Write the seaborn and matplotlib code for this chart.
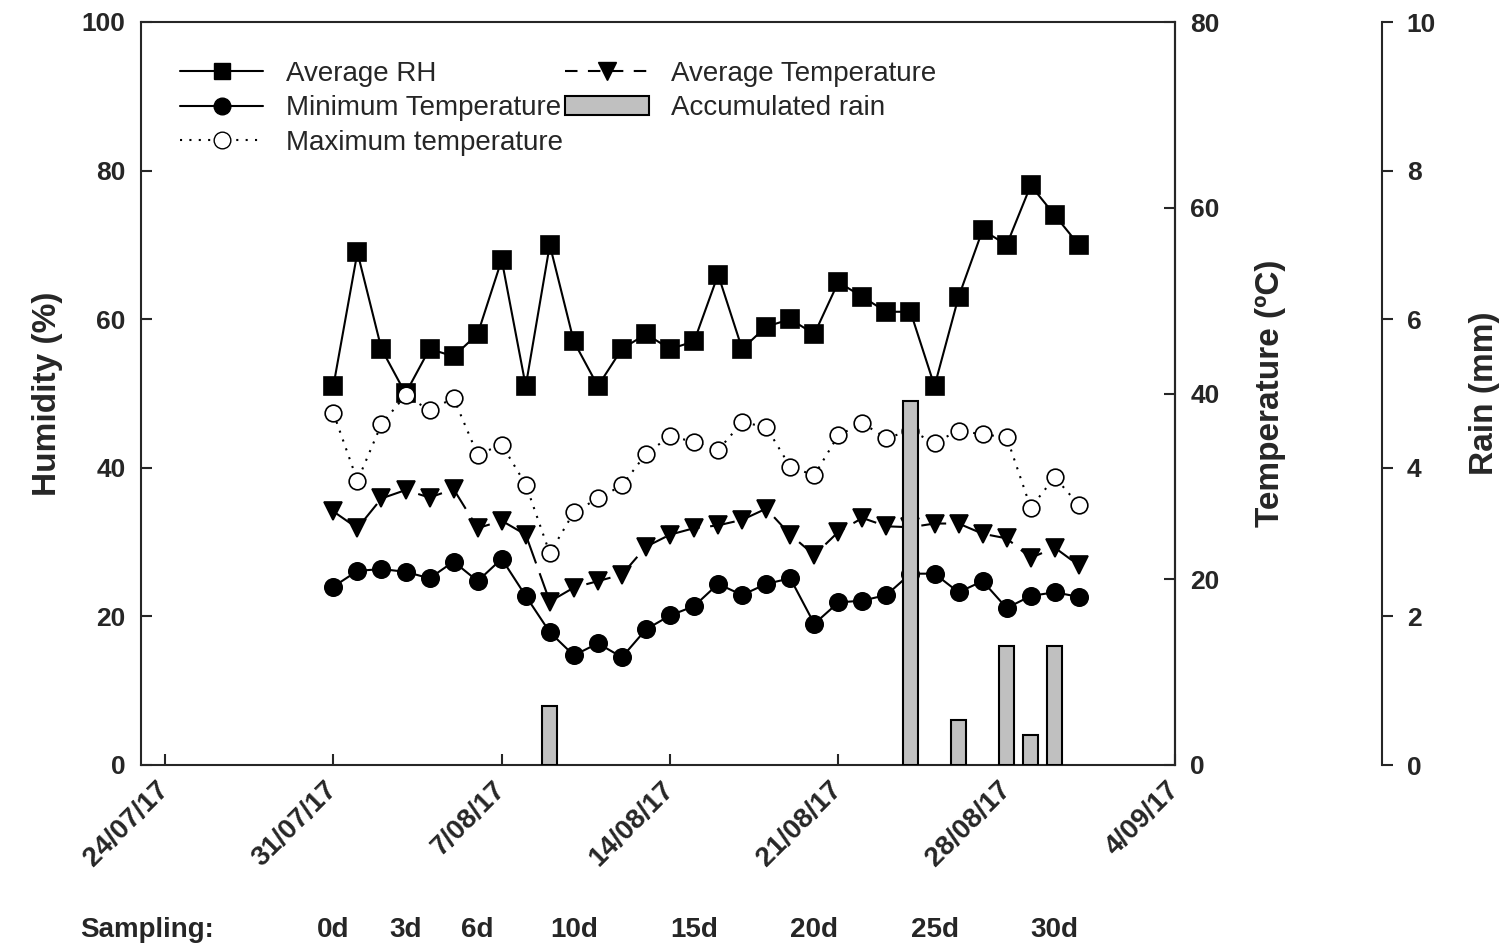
import matplotlib

matplotlib.use("Agg")

import matplotlib.pyplot as plt
import matplotlib.transforms as mtransforms
import pandas as pd
import seaborn as sns
from matplotlib.lines import Line2D
from matplotlib.patches import Patch

# daily records, 31/07/17 to 31/08/17
dates = pd.date_range("2017-07-31", "2017-08-31", freq="D")
avg_rh = [51, 69, 56, 50, 56, 55, 58, 68, 51, 70, 57, 51, 56, 58, 56, 57,
          66, 56, 59, 60, 58, 65, 63, 61, 61, 51, 63, 72, 70, 78, 74, 70]
min_temp = [19.2, 20.9, 21.1, 20.8, 20.1, 21.9, 19.8, 22.2, 18.2, 14.3, 11.8, 13.1, 11.6, 14.6, 16.1, 17.1,
            19.5, 18.3, 19.5, 20.1, 15.2, 17.5, 17.7, 18.3, 20.6, 20.6, 18.6, 19.8, 16.9, 18.2, 18.6, 18.1]
max_temp = [37.9, 30.6, 36.7, 39.8, 38.2, 39.5, 33.4, 34.5, 30.2, 22.8, 27.2, 28.7, 30.1, 33.5, 35.4, 34.8,
            33.9, 36.9, 36.4, 32.1, 31.2, 35.5, 36.8, 35.2, 36.0, 34.7, 36.0, 35.6, 35.3, 27.7, 31.0, 28.0]
avg_temp = [27.3, 25.5, 28.7, 29.6, 28.8, 29.7, 25.5, 26.3, 24.8, 17.6, 19.1, 19.8, 20.5, 23.5, 24.8, 25.5,
            25.8, 26.4, 27.6, 24.8, 22.6, 25.1, 26.6, 25.7, 25.6, 26.0, 26.0, 24.9, 24.4, 22.3, 23.4, 21.5]

rain_dates = pd.to_datetime(["2017-08-09", "2017-08-24", "2017-08-26",
                             "2017-08-28", "2017-08-29", "2017-08-30"])
rain_mm = [0.8, 4.9, 0.6, 1.6, 0.4, 1.6]

tick_dates = pd.to_datetime(["2017-07-24", "2017-07-31", "2017-08-07", "2017-08-14",
                             "2017-08-21", "2017-08-28", "2017-09-04"])
tick_labels = [f"{d.day}/{d:%m/%y}" for d in tick_dates]

sampling_days = [0, 3, 6, 10, 15, 20, 25, 30]
sampling_labels = [f"{d}d" for d in sampling_days]

weather = pd.DataFrame({
    "date": dates,
    "rh": avg_rh,
    "tmin": min_temp,
    "tmax": max_temp,
    "tavg": avg_temp,
})

sns.set_theme(style="ticks")
plt.rcParams["font.family"] = ["Liberation Sans", "DejaVu Sans"]
plt.rcParams["font.weight"] = "bold"
plt.rcParams["axes.linewidth"] = 1.5

fig = plt.figure(figsize=(15.11, 9.48), dpi=100)
ax = fig.add_axes([141 / 1511, 183 / 948, 1034 / 1511, 743 / 948])
ax_t = ax.twinx()
ax_r = ax.twinx()

line_kw = dict(color="black", linewidth=1.5, markeredgecolor="black", markeredgewidth=1.2,
               legend=False, errorbar=None)

sns.lineplot(data=weather, x="date", y="rh", ax=ax, marker="s", markersize=12.5, **line_kw)
sns.lineplot(data=weather, x="date", y="tmax", ax=ax_t, marker="o", markersize=12,
             markerfacecolor="white", linestyle=(0, (1, 3.5)), **line_kw)
sns.lineplot(data=weather, x="date", y="tavg", ax=ax_t, marker="v", markersize=13,
             linestyle=(0, (12, 5)), **line_kw)
sns.lineplot(data=weather, x="date", y="tmin", ax=ax_t, marker="o", markersize=12.5, **line_kw)

ax_r.bar(rain_dates, rain_mm, width=0.62, color="#c0c0c0", edgecolor="black", linewidth=1.5)

ax.set_xlim(pd.Timestamp("2017-07-23"), pd.Timestamp("2017-09-04"))
ax.set_ylim(0, 100)
ax_t.set_ylim(0, 80)
ax_r.set_ylim(0, 10)

ax.set_yticks(range(0, 101, 20))
ax_t.set_yticks(range(0, 81, 20))
ax_r.set_yticks(range(0, 11, 2))
ax.set_xticks(tick_dates)
ax.set_xticklabels(tick_labels, rotation=45, ha="right", va="center", rotation_mode="anchor",
                   fontsize=20, fontweight="bold")

ax.tick_params(axis="y", direction="in", length=8, width=1.5, labelsize=19, pad=11)
ax.tick_params(axis="x", direction="in", length=8, width=1.5, pad=15)
ax_t.tick_params(axis="y", direction="in", length=8, width=1.5, labelsize=19, pad=11)
ax_r.tick_params(axis="y", direction="out", length=8, width=1.5, labelsize=19, pad=10)

for side in ["left", "top", "bottom"]:
    ax_t.spines[side].set_visible(False)
    ax_r.spines[side].set_visible(False)
ax_r.spines["right"].set_position(("axes", 1.2))

ax.set_xlabel("")
ax.set_ylabel("Humidity (%)", fontsize=24, fontweight="bold")
ax_t.set_ylabel("Temperature (ºC)", fontsize=24, fontweight="bold")
ax_r.set_ylabel("Rain (mm)", fontsize=24, fontweight="bold")
for axis, xpos in [(ax, -0.09), (ax_t, 1.092), (ax_r, 1.299)]:
    axis.yaxis.set_label_coords(xpos, 0.5)
    axis.yaxis.label.set_verticalalignment("center")
    axis.yaxis.label.set_horizontalalignment("center")
    axis.yaxis.label.set_rotation_mode("default")

# sampling days row under the date axis
row = mtransforms.blended_transform_factory(ax.transData, fig.transFigure)
fig.text(147 / 1511, 0.019, "Sampling:", ha="center", va="center", fontsize=20, fontweight="bold")
for day, label in zip(sampling_days, sampling_labels):
    ax.text(dates[0] + pd.Timedelta(days=day), 0.019, label, transform=row,
            ha="center", va="center", fontsize=20, fontweight="bold")

handles = [
    Line2D([], [], color="black", lw=1.5, marker="s", markersize=12),
    Line2D([], [], color="black", lw=1.5, marker="o", markersize=12),
    Line2D([], [], color="black", lw=1.5, marker="o", markersize=12, markerfacecolor="white",
           linestyle=(0, (1, 3.5))),
    Line2D([], [], color="black", lw=1.5, marker="v", markersize=13, linestyle=(0, (6, 5))),
    Patch(facecolor="#c0c0c0", edgecolor="black", linewidth=1.5),
]
labels = ["Average RH", "Minimum Temperature", "Maximum temperature",
          "Average Temperature", "Accumulated rain"]
ax_r.legend(handles, labels, ncol=2, loc="upper left", bbox_to_anchor=(0.0377, 0.948),
            frameon=False, prop={"size": 20, "weight": "normal"}, handlelength=3,
            handletextpad=0.8, columnspacing=0.1, labelspacing=0.31,
            borderpad=0, borderaxespad=0)

fig.savefig("out.png", dpi=100)
